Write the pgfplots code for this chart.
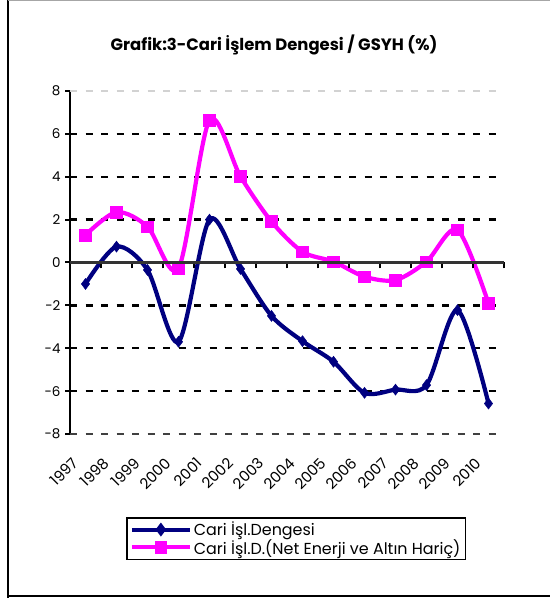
\documentclass[border=0pt]{standalone}
\usepackage{fontspec}
\setmainfont{Poppins}
\usepackage{pgfplots}
\pgfplotsset{compat=1.18}

\definecolor{cariNavy}{RGB}{0,0,128}
\definecolor{cariPink}{RGB}{255,0,255}

\pgfplotstableread{
x    cari   net
0.5  -1.00  1.28
1.5   0.74  2.35
2.5  -0.35  1.67
3.5  -3.70 -0.27
4.5   2.00  6.63
5.5  -0.30  4.01
6.5  -2.49  1.91
7.5  -3.67  0.50
8.5  -4.63  0.04
9.5  -6.08 -0.66
10.5 -5.93 -0.82
11.5 -5.72  0.04
12.5 -2.22  1.52
13.5 -6.58 -1.91
}\datatable

\begin{document}
\begin{tikzpicture}[x=1bp,y=1bp]
\useasboundingbox (0,0) rectangle (550,598);
\draw[black, line width=2.4bp] (8,-1) -- (8,598);
\draw[black, line width=2.4bp] (7,2) -- (551,2);
\draw[gray!70, line width=1.5bp] (8,597.3) -- (551,597.3);
\node[font=\bfseries\fontsize{16.5}{19}\selectfont] at (274,553) {Grafik:3-Cari İşlem Dengesi / GSYH (\%)};

\begin{axis}[
  at={(70bp,164bp)}, anchor=south west,
  width=434bp, height=343bp, scale only axis,
  xmin=0, xmax=14, ymin=-8, ymax=8,
  axis x line*=bottom,
  x axis line style={draw=none},
  axis y line*=left,
  y axis line style={line width=2.6bp, -},
  ytick={-6,-4,...,6},
  extra y ticks={-8,8},
  extra tick style={grid=none},
  xtick={0.5,1.5,...,13.5},
  xticklabels={1997,1998,1999,2000,2001,2002,2003,2004,2005,2006,2007,2008,2009,2010},
  xtick style={draw=none},
  xticklabel style={rotate=45, anchor=north east, xshift=-19bp, yshift=1bp,
    font=\fontsize{15}{17}\selectfont},
  ymajorgrids,
  major grid style={black, line width=2.4bp, dash pattern=on 7bp off 8.5bp},
  major tick length=5bp,
  ytick style={line width=2bp, black},
  tick align=outside,
  yticklabel style={xshift=-1bp, font=\fontsize{13.5}{15}\selectfont},
  /pgf/number format/assume math mode=true,
  clip=false,
]
% top and bottom gridlines drawn lighter, as in the original
\addplot[forget plot, gray!35, line width=1.8bp, dash pattern=on 7bp off 8.5bp]
  coordinates {(0,8) (14,8)};
\addplot[forget plot, black!75, line width=1.4bp, dash pattern=on 7bp off 8.5bp]
  coordinates {(0,-8) (14,-8)};
\addplot[cariNavy, line width=4.2bp, smooth, tension=0.5,
  mark=diamond*, mark size=5.5bp, mark options={fill=cariNavy, draw=cariNavy, line width=0.5bp}]
  table[x=x, y=cari] {\datatable};
\addplot[cariPink, line width=4.2bp, smooth, tension=0.5,
  mark=square*, mark size=5.8bp, mark options={fill=cariPink, draw=cariPink, line width=0.5bp}]
  table[x=x, y=net] {\datatable};
\end{axis}

% zero line with boundary ticks
\begin{axis}[
  at={(70bp,164bp)}, anchor=south west,
  width=434bp, height=343bp, scale only axis,
  xmin=0, xmax=14, ymin=-8, ymax=8,
  axis y line=none,
  axis x line=middle,
  x axis line style={line width=2.4bp, -, black!80},
  xtick={0,...,14},
  xticklabels={},
  xtick style={line width=2bp, black},
  major tick length=6bp,
  xtick align=outside,
]
\end{axis}

\begin{axis}[
  at={(70bp,164bp)}, anchor=south west,
  width=434bp, height=343bp, scale only axis,
  xmin=0, xmax=14, ymin=-8, ymax=8,
  axis lines=none,
  clip=false,
  legend style={at={(56bp,-83bp)}, anchor=north west, draw=black, line width=1.8bp,
    font=\fontsize{16}{19}\selectfont, inner xsep=3bp, inner ysep=2bp, row sep=-2bp,
    legend cell align=left},
  legend image code/.code={
    \draw[#1, line width=4bp] (0bp,0bp) -- (58bp,0bp);
    \draw[#1, only marks] plot coordinates {(29bp,0bp)};
  },
]
\addlegendimage{cariNavy, mark=diamond*, mark size=5.5bp, mark options={fill=cariNavy}}
\addlegendentry{Cari İşl.Dengesi}
\addlegendimage{cariPink, mark=square*, mark size=5.5bp, mark options={fill=cariPink}}
\addlegendentry{Cari İşl.D.(Net Enerji ve Altın Hariç)}
\end{axis}
\end{tikzpicture}
\end{document}
